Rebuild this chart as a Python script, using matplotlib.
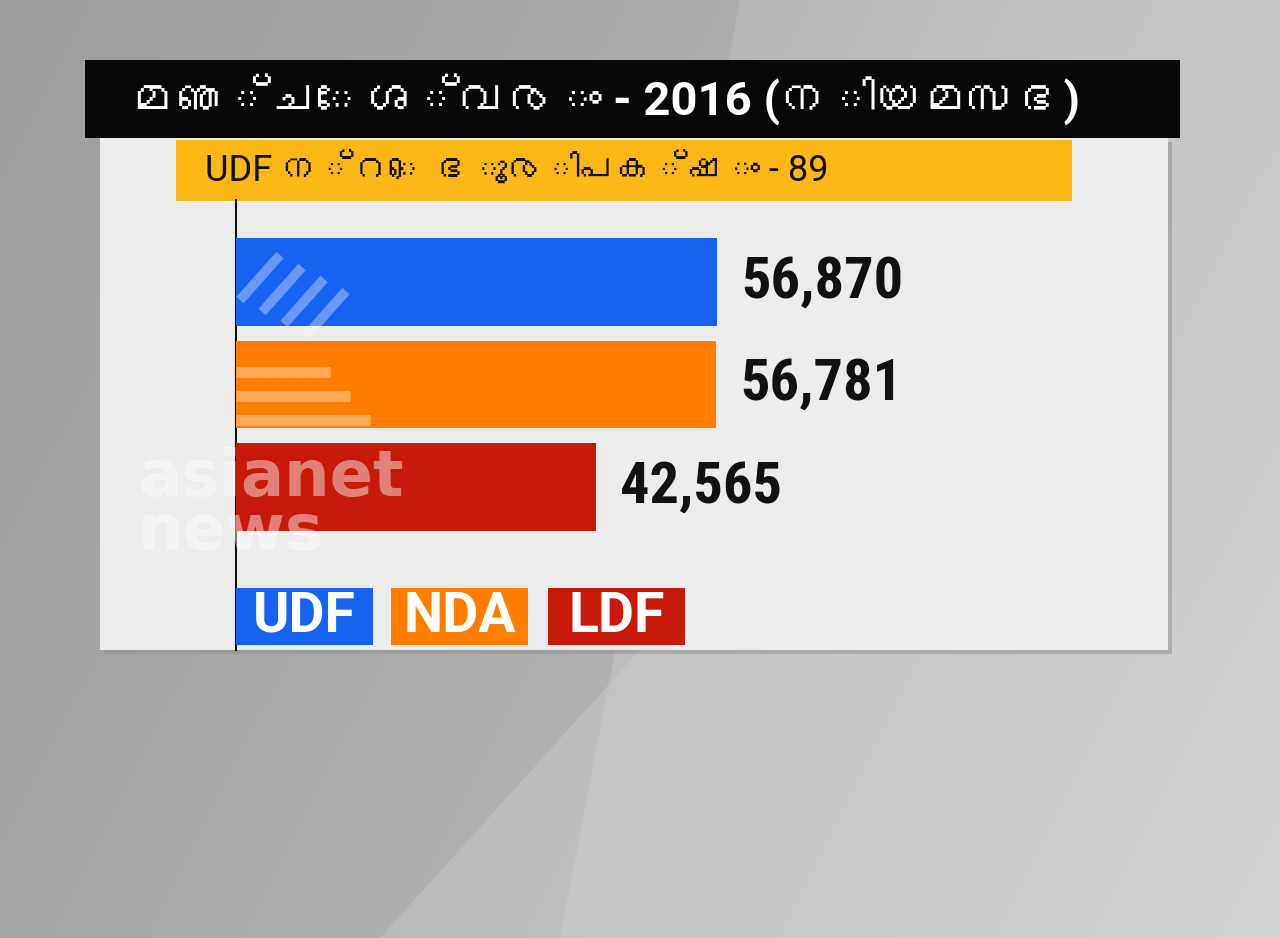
import numpy as np
import matplotlib
matplotlib.use("Agg")
import matplotlib.pyplot as plt
from matplotlib import font_manager
from matplotlib.patches import Rectangle, Polygon

# ---------------- data ----------------
parties = ["UDF", "NDA", "LDF"]
votes = [56870, 56781, 42565]
vote_labels = ["56,870", "56,781", "42,565"]
colors = ["#1862f2", "#ff7e00", "#c81a0a"]
title = "മഞ്ചേശ്വരം - 2016 (നിയമസഭ)"
subtitle = "UDF ന്റെ ഭൂരിപക്ഷം - 89"

# ---------------- fonts ----------------
def find_malayalam_font():
    try:
        from fontTools.ttLib import TTFont
    except Exception:
        return None
    for path in font_manager.findSystemFonts():
        try:
            f = TTFont(path, fontNumber=0, lazy=True)
            cmap = f.getBestCmap()
            if cmap and 0x0D2E in cmap and 0x0D1E in cmap:
                return font_manager.FontProperties(fname=path).get_name()
        except Exception:
            continue
    return None

mal = find_malayalam_font()
fam = ["Roboto"] + ([mal] if mal else []) + ["DejaVu Sans"]
plt.rcParams["font.family"] = fam

W, H = 1280, 938
fig = plt.figure(figsize=(W / 100, H / 100), dpi=100)

# overlay axes in pixel coordinates
bg = fig.add_axes([0, 0, 1, 1])
bg.set_xlim(0, W)
bg.set_ylim(H, 0)
bg.axis("off")

# gradient grey background
yy, xx = np.mgrid[0:H:4, 0:W:4]
g = 0.62 + 0.16 * (xx / W) + 0.06 * (yy / H)
g = np.clip(g, 0, 1)
bg.imshow(np.dstack([g, g, g]), extent=[0, W, H, 0], aspect="auto", zorder=0)
bg.add_patch(Polygon([[0, 0], [740, 0], [560, 938], [0, 938]], closed=True,
                     color="#9c9c9c", alpha=0.35, zorder=1, lw=0))
bg.add_patch(Polygon([[380, 938], [640, 650], [1280, 650], [1280, 938]], closed=True,
                     color="#d0d0d0", alpha=0.35, zorder=1, lw=0))

# white panel with shadow
bg.add_patch(Rectangle((104, 142), 1068, 512, color="#8a8a8a", alpha=0.5, zorder=2, lw=0))
bg.add_patch(Rectangle((100, 138), 1068, 512, color="#ececec", zorder=3, lw=0))

# title bar
bg.add_patch(Rectangle((85, 60), 1095, 78, color="#080808", zorder=4, lw=0))
bg.text(605, 100, title, color="white", fontsize=34, fontweight="bold",
        ha="center", va="center", zorder=5)

# yellow subtitle bar
bg.add_patch(Rectangle((176, 140), 896, 61, color="#fbb715", zorder=4, lw=0))
bg.text(205, 171, subtitle, color="#111111", fontsize=26,
        ha="left", va="center", zorder=5)

# ---------------- bar chart ----------------
x0, x1 = 236, 1168
y_top, y_bot = 200, 650
ax = fig.add_axes([x0 / W, 1 - y_bot / H, (x1 - x0) / W, (y_bot - y_top) / H])
ax.patch.set_alpha(0)
ax.set_zorder(6)
px_per_vote = 481 / votes[0]
ax.set_xlim(0, (x1 - x0) / px_per_vote)
c0, step = 282, 102.5
ax.set_ylim((y_bot - c0) / step, (y_top - c0) / step)
ypos = np.arange(len(parties))
ax.barh(ypos, votes, height=0.85, color=colors, zorder=3)
for y, v, lab in zip(ypos, votes, vote_labels):
    ax.text(v + 24 / px_per_vote, y, lab, fontsize=42, fontweight="bold",
            color="#111111", ha="left", va="center",
            family=["Roboto Condensed", "Liberation Sans Narrow", "Roboto", "DejaVu Sans"])
for s in ["top", "right", "bottom"]:
    ax.spines[s].set_visible(False)
ax.spines["left"].set_color("#111111")
ax.spines["left"].set_linewidth(1.5)
ax.set_xticks([])
ax.set_yticks([])

# watermark overlay (on top of bars)
wm = fig.add_axes([0, 0, 1, 1])
wm.set_xlim(0, W)
wm.set_ylim(H, 0)
wm.axis("off")
wm.patch.set_alpha(0)
wm.set_zorder(7)
for k in range(4):
    xs = 240 + k * 22
    wm.plot([xs, xs + 40], [300 + k * 12, 255 + k * 12], color="white",
            alpha=0.35, lw=7, solid_capstyle="butt")
for k in range(3):
    yv = 372 + k * 24
    wm.plot([236, 330 + k * 20], [yv, yv], color="white", alpha=0.35, lw=8,
            solid_capstyle="butt")
wm.text(138, 505, "asianet\nnews", color="white", alpha=0.45, fontsize=46,
        fontweight="bold", ha="left", va="center", linespacing=0.82,
        multialignment="left", family="DejaVu Sans")

# legend boxes
lx = [236, 391, 548]
for left, p, c in zip(lx, parties, colors):
    wm.add_patch(Rectangle((left, 588), 137, 57, color=c, zorder=7, lw=0))
    wm.text(left + 68.5, 617, p, color="white", fontsize=40, fontweight="bold",
            ha="center", va="center", zorder=8)

fig.savefig("out.png", dpi=100)
